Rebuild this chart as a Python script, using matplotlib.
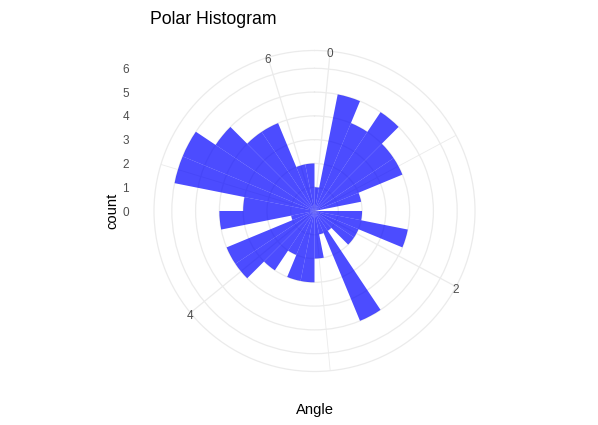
import numpy as np
import matplotlib
matplotlib.use("Agg")
import matplotlib.pyplot as plt
from matplotlib.transforms import offset_copy

plt.rcParams['font.family'] = ['Liberation Sans', 'DejaVu Sans']

# histogram of angles, binwidth 0.2
bin_centers = [0.0, 0.2, 0.4, 0.6, 0.8, 1.0, 1.2, 1.4, 1.6, 1.8, 2.0, 2.2, 2.4, 2.6, 2.8, 3.0,
               3.2, 3.4, 3.6, 3.8, 4.0, 4.2, 4.4, 4.6, 4.8, 5.0, 5.2, 5.4, 5.6, 5.8, 6.0, 6.2]
counts = [1, 5, 4, 5, 4, 4, 2, 0, 2, 4, 2, 2, 1, 5, 1, 2,
          3, 3, 2, 3, 4, 4, 1, 4, 3, 6, 6, 5, 4, 4, 2, 2]
bin_width = 0.2
angle_breaks = [0, 2, 4, 6]
angle_minor = [1, 3, 5]
count_breaks = [0, 1, 2, 3, 4, 5, 6]

W, H = 598, 425
fig = plt.figure(figsize=(W / 100, H / 100), dpi=100)
rect = [154 / W, 53.5 / H, 321 / W, 321 / H]

lo = min(bin_centers) - bin_width / 2
hi = max(bin_centers) + bin_width / 2


def to_theta(x):
    return (np.asarray(x, dtype=float) - lo) / (hi - lo) * 2 * np.pi


rmax = max(count_breaks) * 0.45 / 0.4
grid_col = '#EBEBEB'
text_col = '#4D4D4D'

ax = fig.add_axes(rect, projection='polar')
ax.set_theta_zero_location('N')
ax.set_theta_direction(-1)
ax.bar(to_theta(np.array(bin_centers) - bin_width / 2), counts,
       width=bin_width / (hi - lo) * 2 * np.pi, align='edge',
       color='blue', alpha=0.7, linewidth=0, zorder=3)
ax.set_ylim(0, rmax)
ax.set_yticks(count_breaks[1:])
ax.set_yticklabels([])
ax.set_xticks(to_theta(angle_breaks))
ax.set_xticklabels([])
ax.set_xticks(to_theta(angle_minor), minor=True)
ax.tick_params(which='both', length=0)
ax.grid(True, color=grid_col, lw=0.9)
ax.xaxis.grid(True, which='minor', color=grid_col, lw=0.6)
ax.spines['polar'].set_color(grid_col)
ax.spines['polar'].set_linewidth(0.9)
ax.set_axisbelow(True)
lab_tr = offset_copy(ax.transData, fig=fig, y=-3, units='dots')
for b in angle_breaks:
    ax.text(to_theta(b), rmax, str(b), ha='center', va='center', transform=lab_tr,
            color=text_col, fontsize=8.5, zorder=5)

# radial axis labels on the left
ax2 = fig.add_axes(rect)
ax2.set_xlim(-rmax, rmax)
ax2.set_ylim(-rmax, rmax)
ax2.patch.set_visible(False)
for s in ax2.spines.values():
    s.set_visible(False)
ax2.set_xticks([])
ax2.set_yticks(count_breaks)
ax2.tick_params(axis='y', length=0, pad=18, labelcolor=text_col, labelsize=8.5)

fig.text(150 / W, 1 - 24.5 / H, 'Polar Histogram', fontsize=12.7, va='baseline', ha='left')
fig.text(315 / W, 1 - 410 / H, 'Angle', fontsize=10.6, ha='center', va='center')
fig.text(112 / W, 1 - 211 / H, 'count', fontsize=10.6, ha='center', va='center', rotation=90)

fig.savefig('out.png', dpi=100, facecolor='white')
